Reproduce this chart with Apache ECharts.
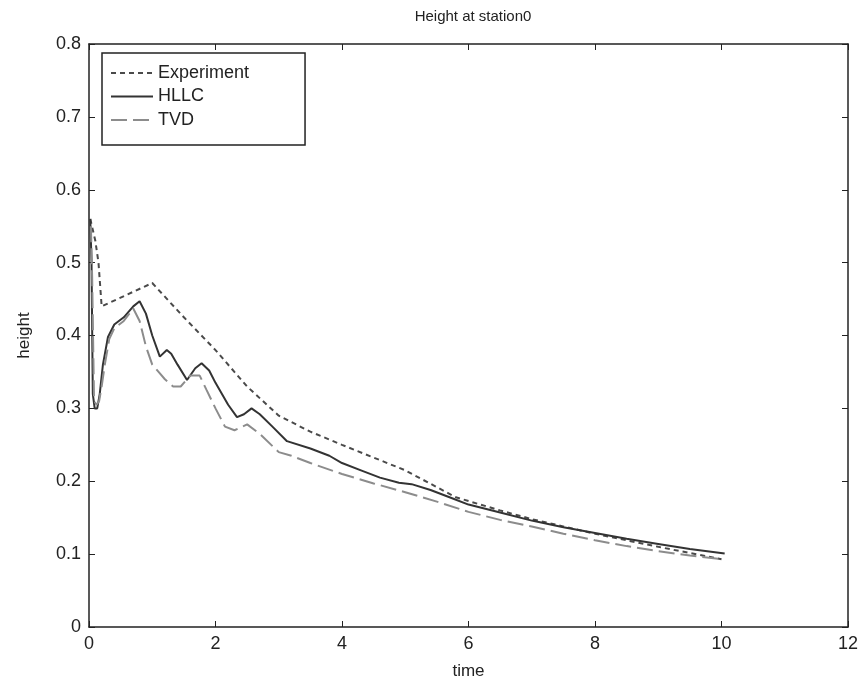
<!DOCTYPE html>
<html><head><meta charset="utf-8">
<script src="https://cdn.jsdelivr.net/npm/echarts@6/dist/echarts.min.js"></script>
<style>html,body{margin:0;padding:0;background:#fff}#c{width:866px;height:691px}</style>
</head><body><div id="c"></div>
<script>
const xTicks = [0, 2, 4, 6, 8, 10, 12];
const yTicks = [0, 0.1, 0.2, 0.3, 0.4, 0.5, 0.6, 0.7, 0.8];
const seriesNames = ['Experiment', 'HLLC', 'TVD'];

const expT = [0.02, 0.1, 0.15, 0.2, 1.0, 1.5, 2.0, 2.5, 3.0, 3.5, 4.0, 5.0, 5.8, 6.5, 7.0, 8.0, 9.0, 10.0];
const expH = [0.56, 0.53, 0.50, 0.44, 0.472, 0.425, 0.38, 0.33, 0.29, 0.268, 0.25, 0.215, 0.178, 0.16, 0.148, 0.128, 0.11, 0.093];

const hllcT = [0.02, 0.04, 0.06, 0.09, 0.13, 0.17, 0.22, 0.3, 0.4, 0.55, 0.7, 0.8, 0.9, 1.0, 1.12, 1.23, 1.3, 1.4, 1.55, 1.68, 1.78, 1.9, 2.0, 2.2, 2.34, 2.45, 2.57, 2.7, 2.9, 3.13, 3.5, 3.8, 4.0, 4.3, 4.6, 4.9, 5.1, 5.4, 5.7, 6.0, 6.5, 7.0, 7.5, 8.0, 8.5, 9.0, 9.5, 10.05];
const hllcH = [0.56, 0.50, 0.32, 0.30, 0.30, 0.32, 0.36, 0.398, 0.415, 0.425, 0.44, 0.447, 0.43, 0.40, 0.371, 0.38, 0.375, 0.36, 0.339, 0.355, 0.362, 0.352, 0.335, 0.305, 0.288, 0.292, 0.30, 0.292, 0.275, 0.255, 0.245, 0.235, 0.225, 0.215, 0.205, 0.198, 0.196, 0.188, 0.178, 0.168, 0.157, 0.146, 0.137, 0.129, 0.121, 0.114, 0.107, 0.101];

const tvdT = [0.03, 0.05, 0.08, 0.12, 0.16, 0.2, 0.25, 0.32, 0.4, 0.55, 0.7, 0.8, 0.9, 1.0, 1.1, 1.2, 1.33, 1.45, 1.6, 1.75, 1.86, 2.0, 2.15, 2.3, 2.5, 2.7, 3.0, 3.2, 3.5, 4.0, 4.5, 5.0, 5.5, 6.0, 6.5, 7.0, 7.5, 8.0, 8.5, 9.0, 9.5, 10.0];
const tvdH = [0.55, 0.48, 0.31, 0.305, 0.31, 0.33, 0.36, 0.395, 0.41, 0.42, 0.437, 0.42, 0.385, 0.36, 0.35, 0.34, 0.33, 0.33, 0.345, 0.345, 0.325, 0.30, 0.275, 0.27, 0.278, 0.265, 0.24, 0.235, 0.225, 0.21, 0.197, 0.185, 0.172, 0.158, 0.147, 0.138, 0.128, 0.119, 0.111, 0.104, 0.098, 0.093];

function pairs(t, h) { return t.map((v, i) => [v, h[i]]); }

const font = 'Liberation Sans, Arial, sans-serif';
const axisCommon = {
  axisLine: { show: true, onZero: false, lineStyle: { color: '#222', width: 1.5 } },
  axisTick: { show: true, inside: true, length: 6, lineStyle: { color: '#222', width: 1 } },
  splitLine: { show: false }
};

const chart = echarts.init(document.getElementById('c'), null, { renderer: 'canvas' });
chart.setOption({
  backgroundColor: '#fff',
  animation: false,
  title: {
    text: 'Height at station0', left: 468, top: 4, textAlign: 'center',
    textStyle: { fontFamily: font, fontSize: 15, fontWeight: 'normal', color: '#222' }
  },
  grid: { left: 89, right: 18, top: 44, bottom: 64 },
  legend: {
    data: seriesNames, orient: 'vertical', left: 102, top: 53,
    itemWidth: 42, itemHeight: 14, itemGap: 3.5,
    padding: [10, 56, 15, 8],
    borderColor: '#222', borderWidth: 1.5, backgroundColor: '#fff',
    itemStyle: { opacity: 0, borderWidth: 0 },
    textStyle: { fontFamily: font, fontSize: 18, lineHeight: 20, color: '#222' }
  },
  xAxis: [
    Object.assign({}, axisCommon, {
      type: 'value', min: xTicks[0], max: xTicks[xTicks.length - 1], interval: 2,
      name: 'time', nameLocation: 'middle', nameGap: 36,
      nameTextStyle: { fontFamily: font, fontSize: 17, color: '#222' },
      axisLabel: { fontFamily: font, fontSize: 18, color: '#222', margin: 8 }
    }),
    Object.assign({}, axisCommon, {
      type: 'value', position: 'top', min: xTicks[0], max: xTicks[xTicks.length - 1], interval: 2,
      axisLabel: { show: false }
    })
  ],
  yAxis: [
    Object.assign({}, axisCommon, {
      type: 'value', min: yTicks[0], max: yTicks[yTicks.length - 1], interval: 0.1,
      name: 'height', nameLocation: 'middle', nameGap: 56, nameRotate: 90,
      nameTextStyle: { fontFamily: font, fontSize: 17, color: '#222' },
      axisLabel: { fontFamily: font, fontSize: 18, color: '#222', margin: 8,
        formatter: v => (v === 0 ? '0' : v.toFixed(1)) }
    }),
    Object.assign({}, axisCommon, {
      type: 'value', position: 'right', min: yTicks[0], max: yTicks[yTicks.length - 1], interval: 0.1,
      axisLabel: { show: false }
    })
  ],
  series: [
    { name: seriesNames[0], type: 'line', symbol: 'none', data: pairs(expT, expH),
      lineStyle: { color: '#4a4a4a', width: 2, type: [5, 4] }, itemStyle: { color: '#4a4a4a' } },
    { name: seriesNames[1], type: 'line', symbol: 'none', data: pairs(hllcT, hllcH),
      lineStyle: { color: '#333', width: 2, type: 'solid' }, itemStyle: { color: '#333' } },
    { name: seriesNames[2], type: 'line', symbol: 'none', data: pairs(tvdT, tvdH),
      lineStyle: { color: '#8c8c8c', width: 2, type: [16, 6] }, itemStyle: { color: '#8c8c8c' } }
  ]
});
</script></body></html>
